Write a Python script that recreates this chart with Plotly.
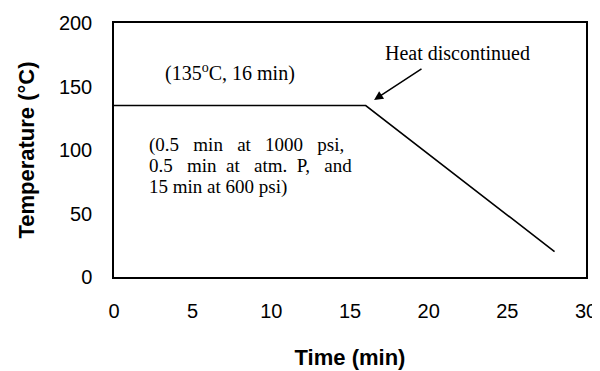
import plotly.graph_objects as go

time_min = [0, 16, 28]
temp_c = [135, 135, 20]
x_ticks = [0, 5, 10, 15, 20, 25, 30]
y_ticks = [0, 50, 100, 150, 200]

hold_label = "(135<sup>o</sup>C, 16 min)"
cond_lines = [
    "(0.5\u00a0\u00a0 min\u00a0\u00a0 at\u00a0\u00a0 1000\u00a0\u00a0 psi,",
    "0.5\u00a0\u00a0 min\u00a0 at\u00a0\u00a0 atm.\u00a0 P,\u00a0\u00a0 and",
    "15 min at 600 psi)",
]
cond_y = [104.2, 87.6, 70.7]
heat_label = "Heat discontinued"

fig = go.Figure()
fig.add_trace(go.Scatter(x=time_min, y=temp_c, mode="lines",
                         line=dict(color="black", width=1.6), showlegend=False))

serif20 = dict(family="Liberation Serif, Times New Roman, serif", size=20, color="black")
serif19 = dict(family="Liberation Serif, Times New Roman, serif", size=19, color="black")

fig.add_annotation(x=7.37, y=161, xref="x", yref="y", text=hold_label,
                   showarrow=False, font=serif20)
for txt, yy in zip(cond_lines, cond_y):
    fig.add_annotation(x=2.1, y=yy, xref="x", yref="y", xanchor="left", text=txt,
                       align="left", showarrow=False, font=serif19)
fig.add_annotation(x=21.86, y=176.5, xref="x", yref="y", text=heat_label,
                   showarrow=False, font=serif20)
fig.add_annotation(x=16.53, y=139.4, ax=19.64, ay=164.6, xref="x", yref="y",
                   axref="x", ayref="y", text="", showarrow=True, arrowhead=2,
                   arrowsize=1.2, arrowwidth=1.5, arrowcolor="black")

axis_font = dict(family="Liberation Sans, Arial, sans-serif", size=20, color="black")
title_font = dict(family="Liberation Sans, Arial, sans-serif", size=22, color="black")

fig.update_xaxes(range=[0, 30], tickvals=x_ticks, showgrid=False, zeroline=False,
                 showline=True, mirror=True, linecolor="black", linewidth=1.5,
                 ticks="outside", ticklen=15, tickcolor="rgba(0,0,0,0)",
                 tickfont=axis_font, automargin=False,
                 title=dict(text="<b>Time (min)</b>", font=title_font, standoff=29))
fig.update_yaxes(range=[0, 200], tickvals=y_ticks, showgrid=False, zeroline=False,
                 showline=True, mirror=True, linecolor="black", linewidth=1.5,
                 ticks="outside", ticklen=16, tickcolor="rgba(0,0,0,0)",
                 tickfont=axis_font, automargin=False,
                 title=dict(text="<b>Temperature (°C)</b>", font=title_font, standoff=18))

# page body adds an 8px offset; margins compensate so the plot sits where the reference has it
fig.update_layout(width=600, height=371, margin=dict(l=106, r=22, t=15, b=102),
                  plot_bgcolor="white", paper_bgcolor="white")

fig.write_html("out.html")
